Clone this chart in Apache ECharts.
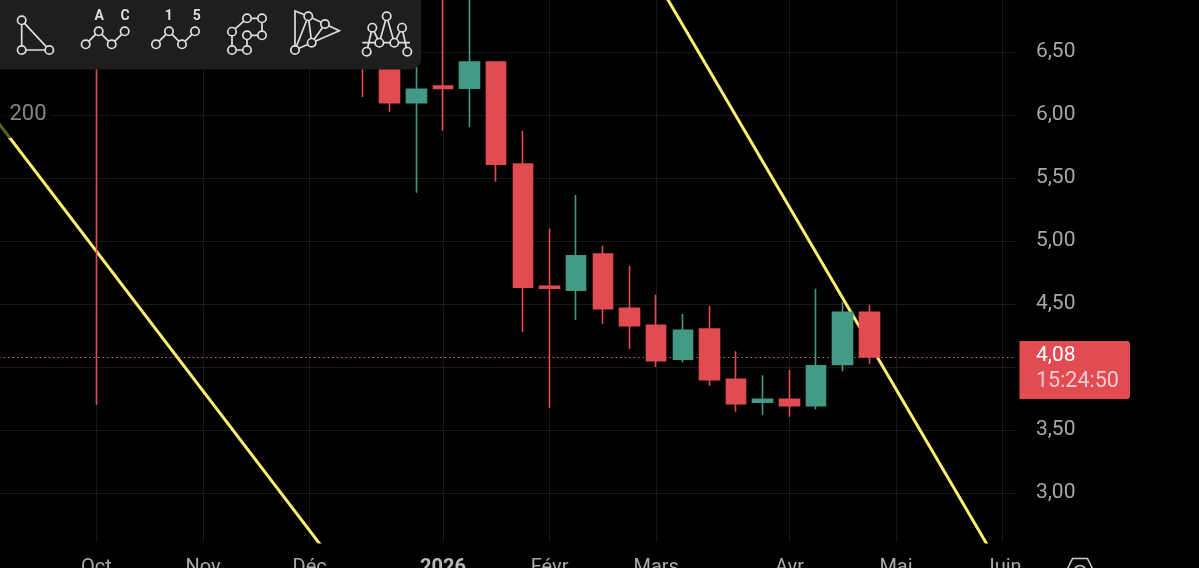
<!DOCTYPE html>
<html>
<head>
<meta charset="utf-8">
<style>html,body{margin:0;padding:0;background:#000;overflow:hidden}#c{width:1199px;height:568px}</style>
<script src="https://cdn.jsdelivr.net/npm/echarts@6/dist/echarts.min.js"></script>
</head>
<body>
<div id="c"></div>
<script>
// one label per weekly candle; blank = no month starts on that week
const weekLabels = ['', '', '', '',
  'Oct', '', '', '', 'Nov', '', '', '', 'Déc', '', '', '', '', '2026', '', '', '', 'Févr', '', '', '',
  'Mars', '', '', '', '', 'Avr', '', '', '', 'Mai', '', '', '', 'Juin'];
// [open, close, low, high]; null = week is out of view
const candles = [
  null, null, null, null,
  [7.10, 6.90, 3.70, 7.30],
  null, null, null, null, null, null, null, null, null,
  [6.80, 6.50, 6.143, 7.00],
  [6.45, 6.098, 6.026, 6.60],
  [6.097, 6.204, 5.383, 6.727],
  [6.230, 6.210, 5.875, 7.20],
  [6.212, 6.421, 5.902, 7.10],
  [6.421, 5.609, 5.471, 6.421],
  [5.611, 4.633, 4.278, 5.875],
  [4.640, 4.625, 3.677, 5.100],
  [4.609, 4.883, 4.373, 5.365],
  [4.897, 4.463, 4.344, 4.963],
  [4.466, 4.328, 4.143, 4.802],
  [4.331, 4.050, 4.000, 4.574],
  [4.061, 4.291, 4.037, 4.421],
  [4.302, 3.899, 3.852, 4.484],
  [3.902, 3.709, 3.645, 4.125],
  [3.720, 3.744, 3.619, 3.934],
  [3.744, 3.693, 3.606, 3.976],
  [3.693, 4.010, 3.664, 4.621],
  [4.021, 4.434, 3.966, 4.518],
  [4.434, 4.080, 4.026, 4.494],
  null, null, null, null, null
];
const trendLeft = [[0, 6.026], [13, 2.424]];
const trendRight = [[25, 7.074], [38, 2.381]];
const priceTicks = [3, 3.5, 4, 4.5, 5, 5.5, 6, 6.5];
const lastPrice = 4.08;
const lastPriceText = '4,08';
const countdownText = '15:24:50';
const sideLabel = '200';

const RED = '#E14B52', GREEN = '#429A85', GRID = '#191919';
const chart = echarts.init(document.getElementById('c'), null, {renderer: 'canvas'});
chart.setOption({
  backgroundColor: '#000',
  animation: false,
  textStyle: {fontFamily: 'Roboto'},
  grid: {left: -23.43, top: 0, width: 1039.35, height: 542, outerBoundsMode: 'none', containLabel: false},
  xAxis: {
    type: 'category', data: weekLabels, boundaryGap: true,
    axisLine: {show: false},
    axisTick: {show: false},
    axisLabel: {
      interval: 0, margin: 16, color: '#aaaaaa', fontSize: 20, hideOverlap: false,
      formatter: v => v === '2026' ? '{b|2026}' : v,
      rich: {b: {fontWeight: 'bold', fontSize: 20, color: '#bbbbbb'}}
    },
    splitLine: {
      show: true, alignWithLabel: true,
      interval: i => weekLabels[i] !== '',
      lineStyle: {color: GRID, width: 1}
    }
  },
  yAxis: {
    type: 'value', position: 'right',
    min: 3 + (493 - 542) / 126, max: 3 + 493 / 126,
    axisLine: {show: false},
    axisTick: {show: false, customValues: priceTicks},
    axisLabel: {
      customValues: priceTicks, margin: 20, color: '#a8a8a8', fontSize: 21,
      formatter: v => v.toFixed(2).replace('.', ',')
    },
    splitLine: {show: true, lineStyle: {color: GRID, width: 1}}
  },
  series: [
    {type: 'line', data: trendLeft, symbol: 'none', z: 2, lineStyle: {color: '#FCEE6E', width: 3}},
    {type: 'line', data: trendRight, symbol: 'none', z: 2, lineStyle: {color: '#FCEE6E', width: 3},
     markLine: {
       silent: true, symbol: 'none', label: {show: false},
       lineStyle: {color: '#d0646a', type: [1.5, 3], width: 1.2},
       data: [{yAxis: lastPrice}]
     }},
    {type: 'candlestick', data: candles.map(c => c || ['-', '-', '-', '-']), barWidth: 20, z: 5,
     itemStyle: {color: GREEN, color0: RED, borderColor: GREEN, borderColor0: RED, borderWidth: 1.6}}
  ]
});

// price tag anchored on the scale; toolbar drawn as overlay
const py = chart.convertToPixel({yAxisIndex: 0}, lastPrice);
const Z = 100, ST = '#dedede', PANEL = '#1e1e1e';
const els = [];
const line = pts => els.push({type: 'polyline', z: Z, shape: {points: pts}, style: {stroke: ST, lineWidth: 1.7, fill: null}});
const dots = pts => pts.forEach(p => els.push({type: 'circle', z: Z + 1, shape: {cx: p[0], cy: p[1], r: 4.2}, style: {stroke: ST, lineWidth: 1.7, fill: PANEL}}));
const txt = (x, y, t, o) => els.push({type: 'text', z: Z + 1, x: x, y: y, style: Object.assign({text: t, fontFamily: 'Roboto', fill: ST, align: 'center', verticalAlign: 'middle', fontSize: 14, fontWeight: 'bold'}, o || {})});

// dim box behind the side label
els.push({type: 'rect', z: Z - 2, shape: {x: 0, y: 92, width: 52, height: 46}, style: {fill: 'rgba(0,0,0,0.62)'}});
txt(28, 114.5, sideLabel, {fontSize: 22, fontWeight: 'normal', fill: '#858585'});
// toolbar
els.push({type: 'rect', z: Z - 1, shape: {x: -20, y: -20, width: 441, height: 89.5, r: 11}, style: {fill: PANEL}});
let p = [[21.7, 20.3], [21.7, 50], [49.3, 50]];
line(p.concat([p[0]])); dots(p);
p = [[85.7, 44.3], [98.7, 31.3], [111.7, 44.3], [124.7, 31.3]];
line(p); dots(p); txt(99.3, 16, 'A'); txt(125, 16, 'C');
p = [[156, 44.3], [169, 31.3], [182, 44.3], [195, 31.3]];
line(p); dots(p); txt(168.7, 16, '1'); txt(196.7, 16, '5');
p = [[247, 18.3], [262, 18.3], [262, 35.3], [247, 35.3], [247, 50], [232, 50], [232, 31.7]];
line(p.concat([p[0]])); dots(p);
const P = [295, 11], Q = [295, 50], A = [308.3, 16.3], B = [325, 24], C = [311.7, 42.7], E = [339.3, 30.7];
line([Q, P, A, B, E, C, Q, A, C, B]); dots([Q, A, B, C]);
line([[362.3, 42.7], [410, 42.7]]);
p = [[366.7, 51.7], [372.3, 27.7], [379.3, 42.7], [386.7, 16.3], [394.3, 42.7], [402, 27.7], [407.3, 51.7]];
line(p); dots(p);
// price tag
els.push({type: 'rect', z: Z, shape: {x: 1019.5, y: py - 16, width: 110.5, height: 58, r: [0, 3, 3, 0]}, style: {fill: RED}});
txt(1036, py - 1, lastPriceText, {align: 'left', fontSize: 21, fontWeight: 'normal', fill: '#ffffff'});
txt(1036, py + 25, countdownText, {align: 'left', fontSize: 21.5, fontWeight: 'normal', fill: '#f6c9cb'});
// settings glyph at the bottom edge
els.push({type: 'polyline', z: Z, shape: {points: [[1065, 574], [1072.5, 558.5], [1087.5, 558.5], [1095, 574]]}, style: {stroke: '#cccccc', lineWidth: 1.5, fill: null}});
els.push({type: 'circle', z: Z, shape: {cx: 1080, cy: 571, r: 5.5}, style: {stroke: '#cccccc', lineWidth: 1.5, fill: null}});
chart.setOption({graphic: {elements: els}});
</script>
</body>
</html>
